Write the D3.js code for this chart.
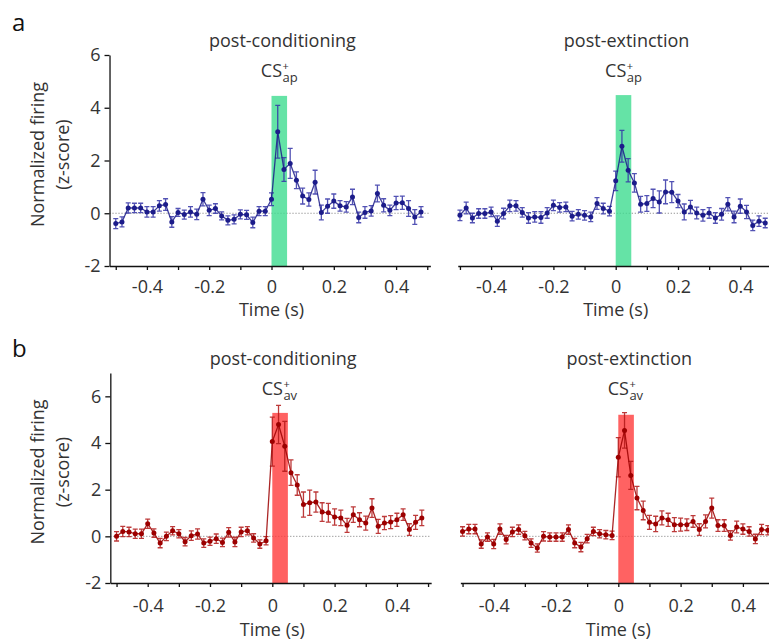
<!DOCTYPE html>
<html>
<head>
<meta charset="utf-8">
<script src="https://cdn.jsdelivr.net/npm/d3@7"></script>
<style>
  body { margin: 0; background: #fff; }
  text { font-family: "Open Sans", sans-serif; fill: #333; }
</style>
</head>
<body>
<script>
// time bins (s)
const times = [-0.50, -0.48, -0.46, -0.44, -0.42, -0.40, -0.38, -0.36, -0.34, -0.32,
               -0.30, -0.28, -0.26, -0.24, -0.22, -0.20, -0.18, -0.16, -0.14, -0.12,
               -0.10, -0.08, -0.06, -0.04, -0.02, 0.00, 0.02, 0.04, 0.06, 0.08,
               0.10, 0.12, 0.14, 0.16, 0.18, 0.20, 0.22, 0.24, 0.26, 0.28,
               0.30, 0.32, 0.34, 0.36, 0.38, 0.40, 0.42, 0.44, 0.46, 0.48];

// a: CS+ap, post-conditioning
const apCondMean = [-0.39, -0.33, 0.20, 0.20, 0.20, 0.05, 0.05, 0.28, 0.33, -0.33,
                    0.03, -0.05, 0.05, -0.04, 0.53, 0.11, 0.18, -0.10, -0.27, -0.23,
                    -0.04, -0.06, -0.35, 0.08, 0.08, 0.53, 3.09, 1.66, 1.89, 1.25,
                    0.65, 0.52, 1.18, 0.03, 0.27, 0.46, 0.28, 0.24, 0.62, -0.16,
                    0.03, 0.09, 0.75, 0.30, 0.11, 0.39, 0.40, 0.18, -0.14, 0.05];
const apCondErr = [0.19, 0.19, 0.19, 0.18, 0.18, 0.20, 0.20, 0.20, 0.22, 0.20,
                   0.15, 0.17, 0.20, 0.20, 0.25, 0.20, 0.18, 0.15, 0.17, 0.17,
                   0.17, 0.17, 0.20, 0.17, 0.17, 0.24, 1.00, 0.45, 0.57, 0.32,
                   0.30, 0.25, 0.45, 0.28, 0.27, 0.27, 0.20, 0.20, 0.29, 0.20,
                   0.22, 0.20, 0.32, 0.25, 0.20, 0.25, 0.25, 0.30, 0.28, 0.20];

// a: CS+ap, post-extinction
const apExtMean = [-0.08, 0.20, -0.18, -0.01, -0.01, 0.05, -0.30, -0.01, 0.28, 0.28,
                   0.03, -0.18, -0.14, -0.16, 0.01, 0.30, 0.22, 0.24, -0.11, -0.04,
                   -0.08, -0.14, 0.37, 0.18, 0.08, 1.23, 2.54, 1.63, 1.15, 0.34,
                   0.37, 0.56, 0.43, 0.81, 0.80, 0.46, 0.05, 0.24, 0.01, -0.08,
                   0.01, -0.18, -0.04, 0.34, -0.14, 0.27, 0.05, -0.46, -0.30, -0.37];
const apExtErr = [0.20, 0.22, 0.18, 0.18, 0.18, 0.18, 0.20, 0.20, 0.22, 0.20,
                  0.18, 0.20, 0.20, 0.22, 0.20, 0.20, 0.18, 0.18, 0.18, 0.18,
                  0.18, 0.18, 0.22, 0.20, 0.18, 0.37, 0.60, 0.44, 0.35, 0.30,
                  0.30, 0.35, 0.42, 0.45, 0.40, 0.25, 0.30, 0.25, 0.22, 0.22,
                  0.20, 0.20, 0.22, 0.25, 0.22, 0.27, 0.25, 0.20, 0.20, 0.18];

// b: CS+av, post-conditioning
const avCondMean = [0.00, 0.21, 0.19, 0.11, 0.11, 0.54, 0.14, -0.29, 0.00, 0.24,
                    0.11, -0.23, 0.03, 0.10, -0.29, -0.21, -0.10, -0.26, 0.17, -0.24,
                    0.19, 0.24, -0.07, -0.33, -0.19, 4.06, 4.79, 3.86, 2.73, 2.20,
                    1.36, 1.44, 1.47, 1.04, 1.01, 0.83, 0.79, 0.47, 0.93, 0.71,
                    0.57, 1.21, 0.43, 0.57, 0.61, 0.71, 0.93, 0.29, 0.60, 0.79];
const avCondErr = [0.20, 0.22, 0.20, 0.20, 0.20, 0.20, 0.18, 0.20, 0.18, 0.18,
                   0.18, 0.18, 0.20, 0.22, 0.18, 0.18, 0.20, 0.18, 0.20, 0.20,
                   0.20, 0.18, 0.18, 0.18, 0.18, 1.05, 0.82, 1.07, 0.55, 0.44,
                   0.54, 0.54, 0.43, 0.40, 0.40, 0.35, 0.33, 0.30, 0.33, 0.30,
                   0.30, 0.40, 0.30, 0.28, 0.28, 0.28, 0.25, 0.25, 0.30, 0.33];

// b: CS+av, post-extinction
const avExtMean = [0.21, 0.31, 0.31, -0.33, -0.03, -0.33, 0.31, -0.14, 0.19, 0.29,
                   0.03, -0.29, -0.50, 0.00, -0.03, -0.03, -0.03, 0.29, -0.29, -0.46,
                   -0.10, 0.21, 0.11, 0.07, 0.04, 3.39, 4.54, 2.61, 1.64, 1.11,
                   0.60, 0.53, 0.79, 0.71, 0.50, 0.50, 0.50, 0.64, 0.29, 0.64,
                   1.21, 0.46, 0.46, 0.04, 0.40, 0.31, 0.21, -0.11, 0.29, 0.26];
const avExtErr = [0.20, 0.20, 0.20, 0.18, 0.18, 0.20, 0.22, 0.18, 0.20, 0.20,
                  0.18, 0.18, 0.18, 0.20, 0.18, 0.18, 0.18, 0.20, 0.20, 0.20,
                  0.18, 0.18, 0.18, 0.18, 0.18, 0.84, 0.76, 0.60, 0.50, 0.40,
                  0.30, 0.33, 0.30, 0.28, 0.30, 0.28, 0.25, 0.25, 0.25, 0.28,
                  0.43, 0.25, 0.25, 0.20, 0.25, 0.22, 0.20, 0.20, 0.22, 0.20];

// stimulus window (s) and bar height per panel
const stimWindow = [0, 0.05];
const stimTop = [4.45, 4.48, 5.29, 5.21];

const xTicks = [-0.5, -0.4, -0.3, -0.2, -0.1, 0, 0.1, 0.2, 0.3, 0.4, 0.5];
const xTickLabels = [-0.4, -0.2, 0, 0.2, 0.4];
const yTicksA = [-2, 0, 2, 4, 6];
const yTicksB = [-2, 0, 2, 4, 6];

const width = 769;
const height = 644;
const pxPerSec = 311.5;

const rows = [
  { letter: "a", sub: "ap", yDomain: [-2, 6], top: 55, bottom: 266, ticks: yTicksA,
    color: "#1c1c8a", errColor: "#3434a8", stimColor: "#3fdc90", tickPad: 10, labelGap: 50 },
  { letter: "b", sub: "av", yDomain: [-2, 7], top: 373, bottom: 583, ticks: yTicksB,
    color: "#9c0000", errColor: "#b21818", stimColor: "#ff3b3b", tickPad: 12, labelGap: 53 }
];

const panels = [
  { row: 0, zeroX: 271.5, tMin: -0.52, tMax: 0.51, title: "post-conditioning", mean: apCondMean, err: apCondErr, stim: stimTop[0], yAxis: true },
  { row: 0, zeroX: 615.7, tMin: -0.507, tMax: 0.55, title: "post-extinction", mean: apExtMean, err: apExtErr, stim: stimTop[1], yAxis: false },
  { row: 1, zeroX: 272.3, tMin: -0.52, tMax: 0.51, title: "post-conditioning", mean: avCondMean, err: avCondErr, stim: stimTop[2], yAxis: true },
  { row: 1, zeroX: 618.3, tMin: -0.507, tMax: 0.55, title: "post-extinction", mean: avExtMean, err: avExtErr, stim: stimTop[3], yAxis: false }
];

const svg = d3.select("body").append("svg")
    .attr("width", width)
    .attr("height", height)
    .attr("viewBox", [0, 0, width, height]);

// panel letters
rows.forEach((r, i) => {
  svg.append("text")
      .attr("x", 12)
      .attr("y", i === 0 ? 31 : 357)
      .style("font-size", "24px")
      .style("fill", "#111")
      .text(r.letter);
});

panels.forEach(p => {
  const r = rows[p.row];
  const data = times.map((t, i) => ({ t, m: p.mean[i], e: p.err[i] }));

  const x = d3.scaleLinear()
      .domain([p.tMin, p.tMax])
      .range([p.zeroX + p.tMin * pxPerSec, p.zeroX + p.tMax * pxPerSec]);

  const y = d3.scaleLinear()
      .domain(r.yDomain)
      .range([r.bottom, r.top]);

  const g = svg.append("g");

  // dotted zero line
  g.append("line")
      .attr("x1", x(p.tMin))
      .attr("x2", x(p.tMax))
      .attr("y1", y(0))
      .attr("y2", y(0))
      .attr("stroke", "#777")
      .attr("stroke-width", 1)
      .attr("stroke-dasharray", "1,2");

  // stimulus bar
  g.append("rect")
      .attr("x", x(stimWindow[0]))
      .attr("width", x(stimWindow[1]) - x(stimWindow[0]))
      .attr("y", y(p.stim))
      .attr("height", y(r.yDomain[0]) - y(p.stim))
      .attr("fill", r.stimColor)
      .attr("opacity", 0.8);

  // error bars
  const eb = g.append("g")
      .attr("stroke", r.errColor)
      .attr("stroke-width", 1.3)
      .attr("opacity", 0.85);

  eb.selectAll("path")
    .data(data)
    .join("path")
      .attr("fill", "none")
      .attr("d", d => {
        const cx = x(d.t), y1 = y(d.m + d.e), y2 = y(d.m - d.e);
        return `M${cx - 2.5},${y1}H${cx + 2.5}M${cx},${y1}V${y2}M${cx - 2.5},${y2}H${cx + 2.5}`;
      });

  // mean line
  g.append("path")
      .datum(data)
      .attr("fill", "none")
      .attr("stroke", r.color)
      .attr("stroke-width", 1.3)
      .attr("opacity", 0.85)
      .attr("d", d3.line().x(d => x(d.t)).y(d => y(d.m)));

  g.append("g")
      .attr("fill", r.color)
    .selectAll("circle")
    .data(data)
    .join("circle")
      .attr("cx", d => x(d.t))
      .attr("cy", d => y(d.m))
      .attr("r", 2.5);

  // x axis
  g.append("g")
      .attr("transform", `translate(0,${r.bottom})`)
      .call(d3.axisBottom(x)
          .tickValues(xTicks.filter(t => t >= p.tMin && t <= p.tMax + 0.2))
          .tickSize(4)
          .tickSizeOuter(0)
          .tickPadding(r.tickPad)
          .tickFormat(d => xTickLabels.includes(d) ? (d === 0 ? "0" : d.toFixed(1)) : ""))
      .call(ax => ax.selectAll("path, line").attr("stroke", "#111").attr("stroke-width", 1.3))
      .call(ax => ax.selectAll("text").style("font-size", "18px").style("font-family", "Open Sans").attr("fill", "#333"));

  // x label
  g.append("text")
      .attr("x", x(0))
      .attr("y", r.bottom + r.labelGap)
      .attr("text-anchor", "middle")
      .style("font-size", "18px")
      .text("Time (s)");

  // y axis
  if (p.yAxis) {
    g.append("g")
        .attr("transform", `translate(${x(p.tMin)},0)`)
        .call(d3.axisLeft(y)
            .tickValues(r.ticks)
            .tickSize(5)
            .tickSizeOuter(0)
            .tickPadding(4)
            .tickFormat(d => String(d)))
        .call(ax => ax.selectAll("path, line").attr("stroke", "#111").attr("stroke-width", 1.3))
        .call(ax => ax.selectAll("text").style("font-size", "18px").style("font-family", "Open Sans").attr("fill", "#333"));

    const cy = (r.top + r.bottom) / 2 - 6;
    g.append("text")
        .attr("transform", `translate(44,${cy}) rotate(-90)`)
        .attr("text-anchor", "middle")
        .style("font-size", "18px")
        .text("Normalized firing");
    g.append("text")
        .attr("transform", `translate(69,${cy}) rotate(-90)`)
        .attr("text-anchor", "middle")
        .style("font-size", "18px")
        .text("(z-score)");
  }

  // titles
  g.append("text")
      .attr("x", x(0.035))
      .attr("y", r.top - 8)
      .attr("text-anchor", "middle")
      .style("font-size", "18px")
      .text(p.title);

  // CS label with stacked superscript / subscript
  const csX = x(0.034);
  g.append("text")
      .attr("x", csX)
      .attr("y", r.top + 22)
      .attr("text-anchor", "end")
      .style("font-size", "18px")
      .text("CS");
  g.append("text")
      .attr("x", csX + 0.5)
      .attr("y", r.top + 15)
      .style("font-size", "11px")
      .text("+");
  g.append("text")
      .attr("x", csX + 0.5)
      .attr("y", r.top + 27)
      .style("font-size", "13px")
      .text(r.sub);
});
</script>
</body>
</html>
